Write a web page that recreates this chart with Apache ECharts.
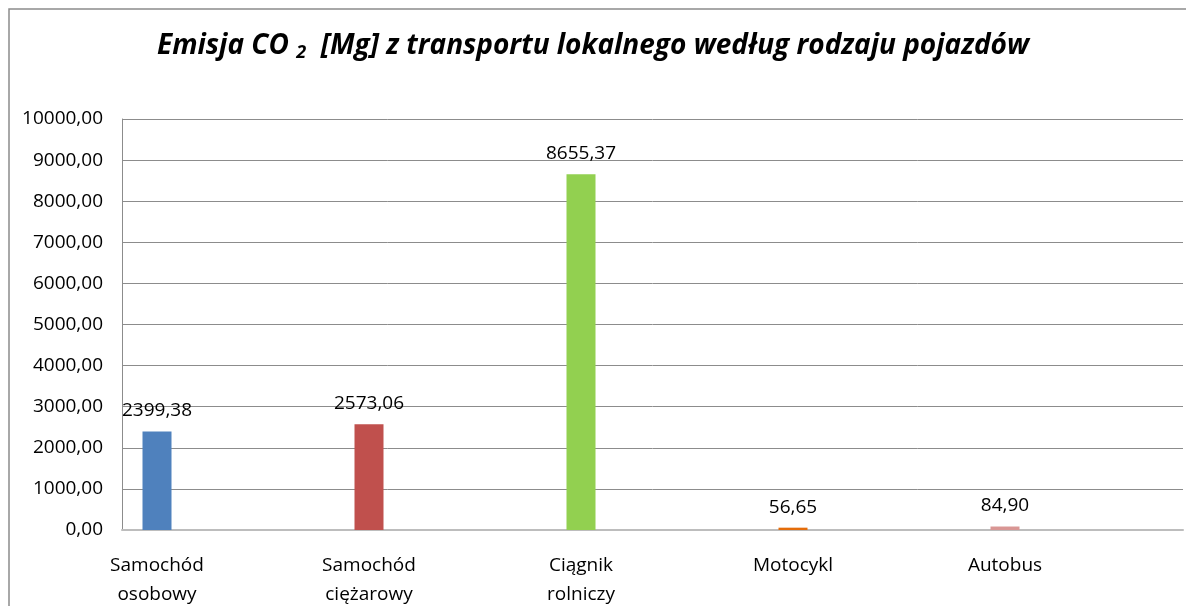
<!DOCTYPE html>
<html>
<head>
<meta charset="utf-8">
<script src="https://cdn.jsdelivr.net/npm/echarts@6/dist/echarts.min.js"></script>
<style>
  html, body { margin: 0; padding: 0; background: #fff; }
  #chart { width: 1186px; height: 606px; }
</style>
</head>
<body>
<div id="chart"></div>
<script>
// dane
const categories = ['Samochód\nosobowy', 'Samochód\nciężarowy', 'Ciągnik\nrolniczy', 'Motocykl', 'Autobus'];
const emissions = [2399.38, 2573.06, 8655.37, 56.65, 84.90];
const yTicks = { min: 0, max: 10000, step: 1000 };

const palette = ['#4f81bd', '#c0504d', '#92d050', '#e46c0a', '#d99694'];
const font = '"Open Sans", Lato, sans-serif';

// 2399.38 -> "2399,38"
function plNum (v) {
  return Number(v).toFixed(2).replace('.', ',');
}

const chart = echarts.init(document.getElementById('chart'));

const options = {
  animation: false,
  title: {
    text: '{t|Emisja CO }{sub|2}{t|  [Mg] z transportu lokalnego według rodzaju pojazdów}',
    left: 'center',
    top: 26,
    textStyle: {
      rich: {
        t: { fontFamily: font, fontSize: 28, fontWeight: 'bold', fontStyle: 'italic', color: '#000' },
        sub: { fontFamily: font, fontSize: 18, fontWeight: 'bold', fontStyle: 'italic', color: '#000', padding: [13, 0, 0, 0] }
      }
    }
  },
  graphic: [{
    type: 'rect',
    shape: { x: 9, y: 9, width: 1300, height: 800 },
    style: { fill: 'none', stroke: '#8c8c8c', lineWidth: 1.5 },
    silent: true
  }],
  grid: [
    // obszar z siatką
    { left: 122, top: 119, width: 1061, height: 411, outerBoundsMode: 'none' },
    // obszar ze słupkami (przesunięty jak w Excelu)
    { left: 51, top: 119, width: 1060, height: 411, outerBoundsMode: 'none' }
  ],
  xAxis: [
    {
      gridIndex: 0,
      type: 'category',
      data: categories,
      axisLine: { show: true, lineStyle: { color: '#bdbdbd', width: 2 } },
      axisTick: { show: false },
      axisLabel: { show: false }
    },
    {
      gridIndex: 1,
      type: 'category',
      data: categories,
      axisLine: { show: false },
      axisTick: { show: false },
      axisLabel: {
        fontFamily: font,
        fontSize: 19,
        color: '#000',
        lineHeight: 29,
        margin: 21
      }
    }
  ],
  yAxis: [
    {
      gridIndex: 0,
      type: 'value',
      min: yTicks.min,
      max: yTicks.max,
      interval: yTicks.step,
      axisLine: { show: true, lineStyle: { color: '#8c8c8c' } },
      axisTick: { show: false },
      splitLine: { lineStyle: { color: '#8c8c8c' } },
      axisLabel: {
        fontFamily: font,
        fontSize: 19,
        color: '#000',
        margin: 19,
        formatter: plNum
      }
    },
    {
      gridIndex: 1,
      type: 'value',
      min: yTicks.min,
      max: yTicks.max,
      show: false
    }
  ],
  series: [
    {
      type: 'bar',
      xAxisIndex: 1,
      yAxisIndex: 1,
      barWidth: 29,
      data: emissions.map((v, i) => ({ value: v, itemStyle: { color: palette[i] } })),
      label: {
        show: true,
        position: 'top',
        distance: 11,
        fontFamily: font,
        fontSize: 19,
        color: '#000',
        formatter: p => plNum(p.value)
      }
    }
  ]
};

chart.setOption(options);
</script>
</body>
</html>
